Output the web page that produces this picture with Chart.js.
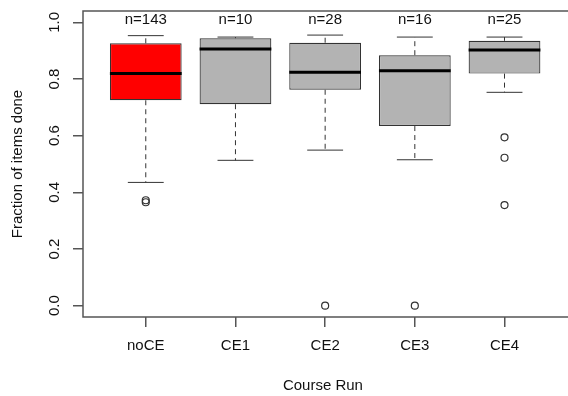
<!DOCTYPE html>
<html>
<head>
<meta charset="utf-8">
<script src="https://cdn.jsdelivr.net/npm/chart.js@4"></script>
<style>
html,body{margin:0;padding:0;background:#fff;}
#wrap{width:568px;height:396px;position:relative;}
</style>
</head>
<body>
<div id="wrap"><canvas id="c" width="568" height="396"></canvas></div>
<script>
const categories = ["noCE", "CE1", "CE2", "CE3", "CE4"];
const counts = [143, 10, 28, 16, 25];
const whiskerLow = [0.435, 0.513, 0.549, 0.515, 0.753];
const q1 = [0.725, 0.711, 0.762, 0.634, 0.819];
const median = [0.819, 0.906, 0.824, 0.829, 0.902];
const q3 = [0.926, 0.944, 0.928, 0.884, 0.935];
const whiskerHigh = [0.953, 0.948, 0.955, 0.948, 0.948];
const outliers = [[0.372, 0.365], [], [0.0], [0.0], [0.594, 0.522, 0.355]];
const yTicks = [0.0, 0.2, 0.4, 0.6, 0.8, 1.0];
const boxColors = ["#ff0000", "#b3b3b3", "#b3b3b3", "#b3b3b3", "#b3b3b3"];

const FONT = "'Liberation Sans', Arial, Helvetica, sans-serif";
const INK = "#333333";
const FRAME = "#555555";

const boxData = categories.map((c, i) => ({x: i + 1, y: [q1[i], q3[i]]}));
const whiskerData = [];
const capData = [];
const medianData = [];
categories.forEach((c, i) => {
  const x = i + 1;
  whiskerData.push({x, y: q3[i]}, {x, y: whiskerHigh[i]}, {x, y: null});
  whiskerData.push({x, y: q1[i]}, {x, y: whiskerLow[i]}, {x, y: null});
  capData.push({x: x - 0.2, y: whiskerHigh[i]}, {x: x + 0.2, y: whiskerHigh[i]}, {x, y: null});
  capData.push({x: x - 0.2, y: whiskerLow[i]}, {x: x + 0.2, y: whiskerLow[i]}, {x, y: null});
  medianData.push({x: x - 0.4, y: median[i]}, {x: x + 0.4, y: median[i]}, {x, y: null});
});
const outlierData = [];
outliers.forEach((arr, i) => arr.forEach(v => outlierData.push({x: i + 1, y: v})));

const framePlugin = {
  id: 'frame',
  afterDatasetsDraw(chart) {
    const {ctx, chartArea: a, scales} = chart;
    ctx.save();
    ctx.strokeStyle = FRAME;
    ctx.lineWidth = 1.5;
    ctx.beginPath();
    ctx.moveTo(chart.width + 2, a.top);
    ctx.lineTo(a.left, a.top);
    ctx.lineTo(a.left, a.bottom);
    ctx.lineTo(chart.width + 2, a.bottom);
    ctx.stroke();
    ctx.fillStyle = "#111";
    ctx.font = "15px " + FONT;
    ctx.textAlign = "center";
    ctx.textBaseline = "alphabetic";
    categories.forEach((c, i) => {
      ctx.fillText("n=" + counts[i], scales.x.getPixelForValue(i + 1), a.top + 13);
    });
    ctx.restore();
  }
};

new Chart(document.getElementById('c'), {
  data: {
    datasets: [
      {type: 'line', data: medianData, borderColor: '#000', borderWidth: 3, pointRadius: 0, spanGaps: false, order: 0},
      {type: 'scatter', data: outlierData, pointRadius: 3.5, pointBorderColor: INK, pointBackgroundColor: 'rgba(0,0,0,0)', pointBorderWidth: 1.2, order: 1},
      {type: 'line', data: capData, borderColor: INK, borderWidth: 1, pointRadius: 0, spanGaps: false, order: 2},
      {type: 'line', data: whiskerData, borderColor: INK, borderWidth: 1, borderDash: [5, 4], pointRadius: 0, spanGaps: false, order: 3},
      {type: 'bar', data: boxData, backgroundColor: boxColors, borderColor: INK, borderWidth: 1.2, borderSkipped: false, barPercentage: 0.8, categoryPercentage: 1.0, order: 10}
    ]
  },
  options: {
    responsive: false,
    animation: false,
    events: [],
    layout: {padding: {top: 11, right: 0, bottom: 0, left: 0}},
    plugins: {legend: {display: false}, tooltip: {enabled: false}},
    scales: {
      x: {
        type: 'linear',
        min: 0.3,
        max: 5.65,
        offset: false,
        afterFit(s) { s.height = 79; s.paddingLeft = 0; s.paddingRight = 0; },
        afterBuildTicks(s) { s.ticks = categories.map((c, i) => ({value: i + 1})); },
        grid: {offset: false, drawOnChartArea: false, drawTicks: true, tickLength: 10, color: FRAME, lineWidth: 1.5},
        border: {display: false},
        ticks: {
          autoSkip: false, maxRotation: 0, minRotation: 0, padding: 10,
          color: '#111', font: {family: FONT, size: 15},
          callback: (v) => categories[Math.round(v) - 1]
        },
        title: {display: true, text: 'Course Run', color: '#111', font: {family: FONT, size: 15}, padding: {top: 2, bottom: 1}}
      },
      y: {
        type: 'linear',
        min: -0.04,
        max: 1.04,
        afterFit(s) { s.width = 83; s.paddingTop = 0; s.paddingBottom = 0; },
        afterBuildTicks(s) { s.ticks = yTicks.map(v => ({value: v})); },
        grid: {drawOnChartArea: false, drawTicks: true, tickLength: 10, color: FRAME, lineWidth: 1.5},
        border: {display: false},
        ticks: {
          autoSkip: false, minRotation: 90, maxRotation: 90, crossAlign: 'center', padding: 8,
          color: '#111', font: {family: FONT, size: 15},
          callback: (v) => Number(v).toFixed(1)
        },
        title: {display: true, text: 'Fraction of items done', color: '#111', font: {family: FONT, size: 15}, padding: {top: 9, bottom: 0}}
      }
    }
  },
  plugins: [framePlugin]
});
</script>
</body>
</html>
